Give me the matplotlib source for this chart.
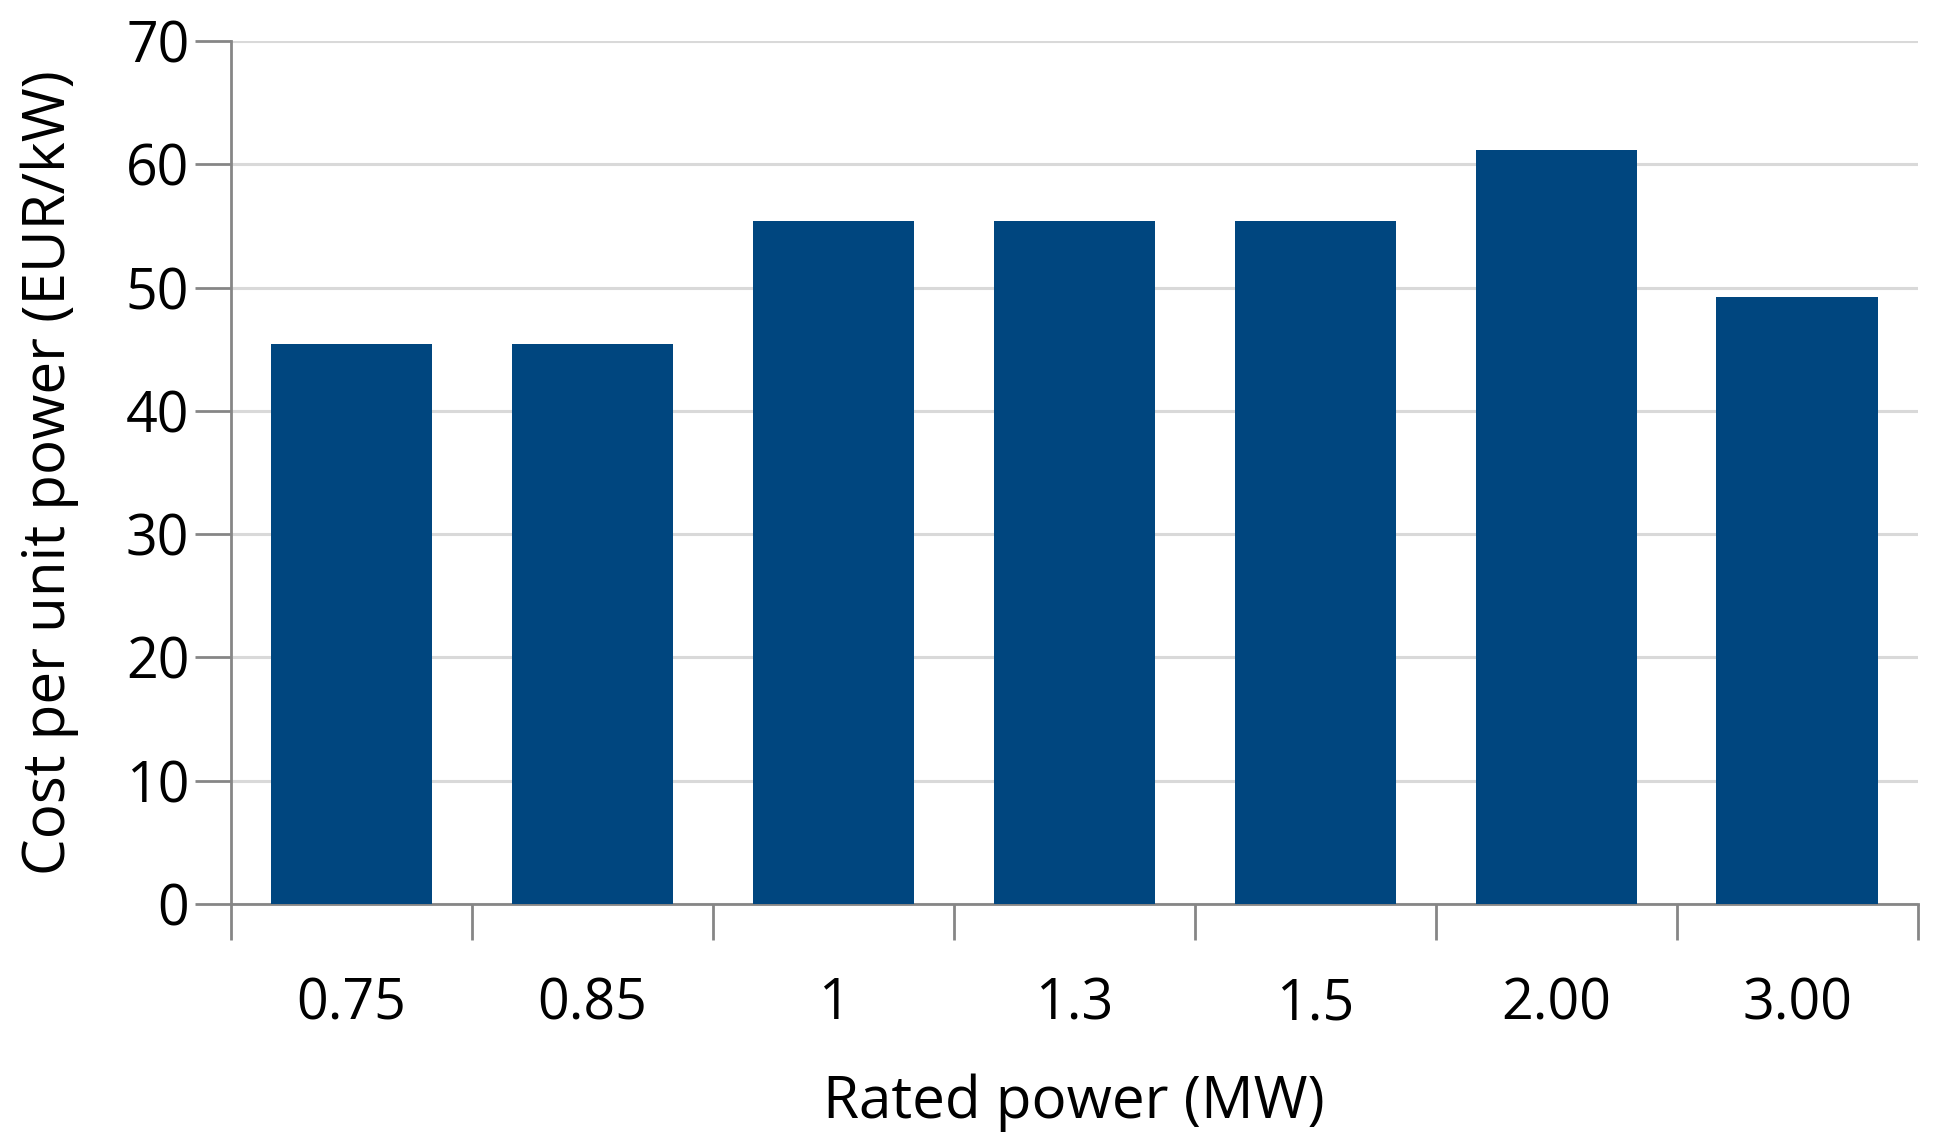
import matplotlib.pyplot as plt
import numpy as np

plt.rcParams['font.family'] = ['Open Sans', 'DejaVu Sans']

ratings = ['0.75', '0.85', '1', '1.3', '1.5', '2.00', '3.00']
cost = [45.4, 45.4, 55.4, 55.4, 55.4, 61.2, 49.2]

bar_color = '#00467f'
axis_color = '#868686'
grid_color = '#d9d9d9'

fig = plt.figure(figsize=(19.37, 11.46), dpi=100)
ax = fig.add_axes([0.1193, 0.2112, 0.8707, 0.753])

x = np.arange(len(ratings))
ax.bar(x, cost, width=0.67, color=bar_color, zorder=3)

ax.set_xlim(-0.5, len(ratings) - 0.5)
ax.set_ylim(0, 70)
ax.set_yticks(np.arange(0, 71, 10))
ax.yaxis.grid(True, color=grid_color, linewidth=2.2, zorder=0)

ax.set_xticks(x)
ax.set_xticklabels(ratings)
ax.set_xticks(np.arange(-0.5, len(ratings)), minor=True)
ax.tick_params(axis='x', which='major', length=0, pad=52, labelsize=40)
ax.tick_params(axis='x', which='minor', length=26, width=2, color=axis_color)
ax.tick_params(axis='y', length=26, width=2, color=axis_color, labelsize=40, pad=4)

for s in ['top', 'right']:
    ax.spines[s].set_visible(False)
for s in ['left', 'bottom']:
    ax.spines[s].set_color(axis_color)
    ax.spines[s].set_linewidth(2)

ax.set_xlabel('Rated power (MW)', fontsize=42, labelpad=29)
ax.set_ylabel('Cost per unit power (EUR/kW)', fontsize=42, labelpad=34)

fig.savefig('out.png', dpi=100, facecolor='white')
